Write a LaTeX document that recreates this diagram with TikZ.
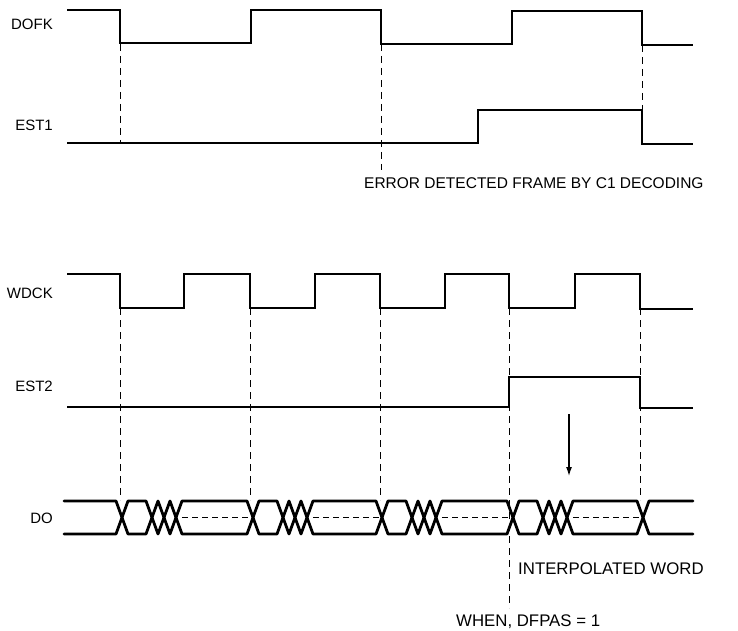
\documentclass[tikz,border=0pt]{standalone}
\usepackage{fontspec}
\setmainfont{Liberation Sans}
\usetikzlibrary{arrows.meta}
\tikzset{
  sig/.style={line width=2.8pt, line join=miter, line cap=butt},
  bus/.style={line width=2.8pt, line join=round, line cap=round},
  guide/.style={line width=1pt, dash pattern=on 7pt off 5pt},
  mid/.style={line width=1pt, dash pattern=on 6pt off 4pt},
  lbl/.style={font=\fontsize{15}{18}\selectfont, inner sep=0pt, anchor=base east},
  note/.style={font=\fontsize{15.5}{18}\selectfont, inner sep=0pt, anchor=base west},
  bignote/.style={font=\fontsize{16.8}{20}\selectfont, inner sep=0pt, anchor=base west},
  pointer/.style={line width=1.2pt, -{Latex[length=9pt,width=6pt]}}
}
\begin{document}
\begin{tikzpicture}[x=1pt,y=-1pt]
\useasboundingbox (0,0) rectangle (738,631);
% labels
\node[lbl] (lDOFK) at (53,30) {DOFK};
\node[lbl] (lEST1) at (53,131) {EST1};
\node[lbl] (lWDCK) at (53,298) {WDCK};
\node[lbl] (lEST2) at (53,391) {EST2};
\node[lbl] (lDO) at (53,523) {DO};
% guides (top)
\draw[guide] (120,44) -- (120,143);
\draw[guide] (381,44) -- (381,170);
\draw[guide] (642,45) -- (642,110);
% DOFK
\draw[sig] (67,10) -- (120,10) -- (120,43) -- (251,43) -- (251,10) -- (381,10) -- (381,44) -- (512,44) -- (512,11) -- (642,11) -- (642,45) -- (693,45);
% EST1
\draw[sig] (67,143) -- (478,143) -- (478,110) -- (642,110) -- (642,144) -- (693,144);
\node[note] (err) at (364,188) {ERROR\ DETECTED\ FRAME\ BY\ C1\ DECODING};
% guides (bottom)
\foreach \g in {120,250,380,640} {\draw[guide] (\g,308) -- (\g,500);}
\draw[guide] (509,308) -- (509,608);
% WDCK
\draw[sig] (67,274) -- (120,274) -- (120,308) -- (184,308) -- (184,274) -- (250,274) -- (250,308) -- (315,308) -- (315,274) -- (380,274) -- (380,308) -- (445,308) -- (445,274) -- (509,274) -- (509,308) -- (575,308) -- (575,274) -- (640,274) -- (640,309) -- (693,309);
% EST2
\draw[sig] (67,407) -- (509,407) -- (509,377) -- (640,377) -- (640,408) -- (693,408);
% DO bus
\def\T{501}\def\B{534}\def\M{517.5}
\draw[bus] (64,\T)
  foreach \c in {122,253,382,513} {
    -- (\c-6,\T) -- (\c+6,\B) -- (\c+24,\B) -- (\c+36,\T) -- (\c+48,\B) -- (\c+60,\T)
  }
  -- (637,\T) -- (649,\B) -- (693,\B);
\draw[bus] (64,\B)
  foreach \c in {122,253,382,513} {
    -- (\c-6,\B) -- (\c+6,\T) -- (\c+24,\T) -- (\c+36,\B) -- (\c+48,\T) -- (\c+60,\B)
  }
  -- (637,\B) -- (649,\T) -- (693,\T);
\draw[mid] (182,\M) -- (253,\M);
\draw[mid] (313,\M) -- (382,\M);
\draw[mid] (442,\M) -- (513,\M);
\draw[mid] (573,\M) -- (643,\M);
% arrow
\coordinate (aS) at (569,414);
\coordinate (aE) at (569,476);
\draw[pointer] (aS) -- (aE);
\node[bignote] (interp) at (518,574) {INTERPOLATED\ WORD};
\node[bignote] (when) at (456,626) {WHEN,\ DFPAS = 1};
\end{tikzpicture}
\end{document}
